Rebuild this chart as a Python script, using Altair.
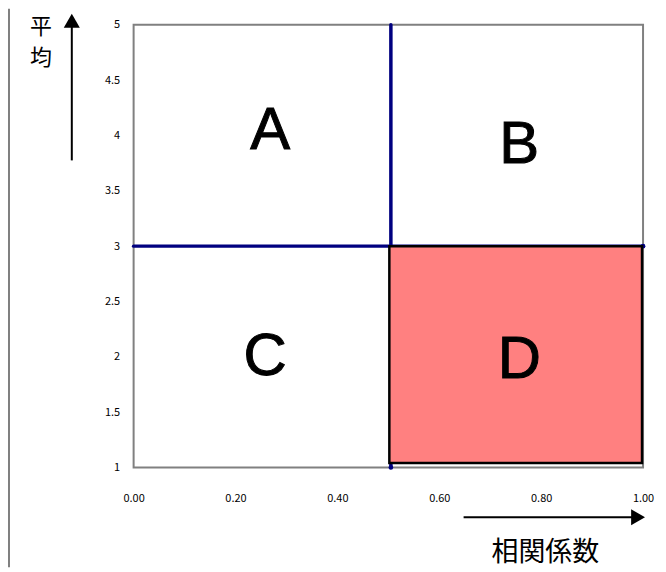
import altair as alt
import pandas as pd

# ---- data ----
x_ticks = [0.0, 0.2, 0.4, 0.6, 0.8, 1.0]
y_ticks = [1, 1.5, 2, 2.5, 3, 3.5, 4, 4.5, 5]

quad_labels = ["A", "B", "C", "D"]
quad_x = [0.268, 0.757, 0.258, 0.757]
quad_y = [4.04, 3.91, 2.0, 1.97]

# highlighted quadrant D
d_x = [0.502]
d_x2 = [0.998]
d_y = [1.04]
d_y2 = [3.0]

# divider lines (start/end)
div_x = [0.505, 0.0]
div_x2 = [0.505, 1.0]
div_y = [1.0, 3.0]
div_y2 = [5.0, 3.0]

# end markers of divider lines
dot_x = [0.505, 1.0]
dot_y = [1.0, 3.0]

frame_x = [0.0]
frame_x2 = [1.0]
frame_y = [1.0]
frame_y2 = [5.0]

x_title = "相関係数"
y_title_chars = ["平", "均"]

# ---- build ----
JP = "Noto Sans CJK JP"
xs = alt.Scale(domain=[0, 1], nice=False, zero=False)
ys = alt.Scale(domain=[1, 5], nice=False, zero=False)

frame_df = pd.DataFrame({"x": frame_x, "x2": frame_x2, "y": frame_y, "y2": frame_y2})
frame = alt.Chart(frame_df).mark_rect(fill="white", stroke="#808080", strokeWidth=2).encode(
    x=alt.X("x:Q", scale=xs, axis=alt.Axis(values=x_ticks, format=".2f", domain=False, ticks=False,
                                          grid=False, labelPadding=25, labelFontSize=11, labelFont=JP,
                                          labelColor="black", labelFlush=False, labelOverlap=False,
                                          title=None)),
    x2="x2:Q",
    y=alt.Y("y:Q", scale=ys, axis=alt.Axis(values=y_ticks, format="~g", domain=False, ticks=False,
                                          grid=False, labelPadding=14, labelFontSize=11, labelFont=JP,
                                          labelColor="black", labelFlush=False, labelOverlap=False,
                                          title=None)),
    y2="y2:Q",
)

div_df = pd.DataFrame({"x": div_x, "x2": div_x2, "y": div_y, "y2": div_y2})
dividers = alt.Chart(div_df).mark_rule(color="#000080", strokeWidth=3.5, strokeCap="round").encode(
    x=alt.X("x:Q", scale=xs), x2="x2:Q", y=alt.Y("y:Q", scale=ys), y2="y2:Q"
)

dot_df = pd.DataFrame({"x": dot_x, "y": dot_y})
dots = alt.Chart(dot_df).mark_point(filled=True, color="#000080", size=22, opacity=1).encode(
    x=alt.X("x:Q", scale=xs), y=alt.Y("y:Q", scale=ys)
)

d_df = pd.DataFrame({"x": d_x, "x2": d_x2, "y": d_y, "y2": d_y2})
drect = alt.Chart(d_df).mark_rect(fill="#FF8080", stroke="black", strokeWidth=2.5).encode(
    x=alt.X("x:Q", scale=xs), x2="x2:Q", y=alt.Y("y:Q", scale=ys), y2="y2:Q"
)

q_df = pd.DataFrame({"label": quad_labels, "x": quad_x, "y": quad_y})
qtext = alt.Chart(q_df).mark_text(font="Liberation Sans", fontSize=60, color="black",
                                  stroke="black", strokeWidth=1,
                                  baseline="middle", align="center").encode(
    x=alt.X("x:Q", scale=xs), y=alt.Y("y:Q", scale=ys), text="label:N"
)

one = pd.DataFrame({"a": [0]})
# decorations outside the plot area (pixel positions)
left_line = alt.Chart(one).mark_rule(color="#808080", strokeWidth=2).encode(
    x=alt.value(-125), y=alt.value(-16), y2=alt.value(544)
)
v_arrow = alt.Chart(one).mark_rule(color="black", strokeWidth=2).encode(
    x=alt.value(-62), y=alt.value(136), y2=alt.value(0)
)
v_head = alt.Chart(one).mark_point(shape="triangle-up", filled=True, color="black", size=260, opacity=1).encode(
    x=alt.value(-62), y=alt.value(-4)
)
h_arrow = alt.Chart(one).mark_rule(color="black", strokeWidth=2).encode(
    x=alt.value(331), x2=alt.value(500), y=alt.value(494)
)
h_head = alt.Chart(one).mark_point(shape="triangle-right", filled=True, color="black", size=260, opacity=1).encode(
    x=alt.value(506), y=alt.value(494)
)
y_lab1 = alt.Chart(one).mark_text(text=y_title_chars[0], font=JP, fontSize=22,
                                  color="black", align="center", baseline="middle").encode(
    x=alt.value(-93), y=alt.value(2)
)
y_lab2 = alt.Chart(one).mark_text(text=y_title_chars[1], font=JP, fontSize=22,
                                  color="black", align="center", baseline="middle").encode(
    x=alt.value(-93), y=alt.value(33)
)
x_lab = alt.Chart(one).mark_text(text=x_title, font=JP, fontSize=27, color="black",
                                 align="center", baseline="middle").encode(
    x=alt.value(413), y=alt.value(530)
)

chart = alt.layer(
    frame, dividers, dots, drect, qtext,
    left_line, v_arrow, v_head, h_arrow, h_head, y_lab1, y_lab2, x_lab
).properties(
    width=511, height=444,
    autosize=alt.AutoSizeParams(type="none"),
    padding={"left": 126, "top": 16, "right": 15, "bottom": 100},
    background="white",
).configure_view(stroke=None)

chart.save("out.html", embed_options={"renderer": "svg", "actions": False})
